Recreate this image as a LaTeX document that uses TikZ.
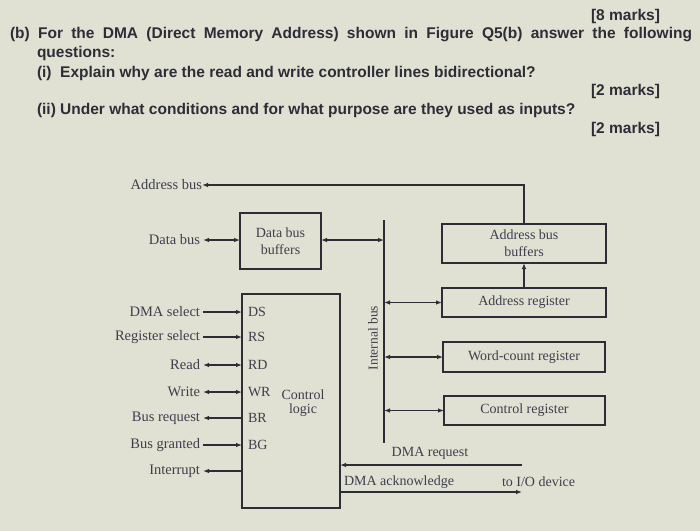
\documentclass[tikz,border=0pt]{standalone}
\usepackage{fontspec}
\setmainfont{Liberation Serif}
\newfontfamily\qfont{Liberation Sans}
\usetikzlibrary{arrows.meta}
\definecolor{ink}{RGB}{45,45,55}
\definecolor{lbl}{RGB}{62,62,78}
\definecolor{bg}{RGB}{224,225,210}
\begin{document}
\begin{tikzpicture}[x=1pt,y=-1pt,
  every node/.style={inner sep=0pt, outer sep=0pt},
  qtext/.style={font=\qfont\bfseries\fontsize{15.5}{18}\selectfont, text=ink},
  lab/.style={font=\fontsize{14.5}{16}\selectfont, text=lbl},
  inlab/.style={font=\fontsize{14}{16}\selectfont, text=lbl},
  box/.style={draw=ink, line width=1.6pt, align=center, font=\fontsize{14}{17}\selectfont, text=lbl},
  wire/.style={draw=ink, line width=1.1pt},
  onearr/.style={wire, -{Latex[length=6pt,width=4.5pt]}},
  twoarr/.style={wire, {Latex[length=6pt,width=4.5pt]}-{Latex[length=6pt,width=4.5pt]}}
]
\fill[bg] (0,0) rectangle (700,531);
\useasboundingbox (0,0) rectangle (700,531);

% question text
\node[qtext, anchor=base east] (m8) at (660,20) {[8 marks]};
\node[qtext, anchor=base west] (q1) at (10,38) {\makebox[682pt][s]{(b) For the DMA (Direct Memory Address) shown in Figure Q5(b) answer the following}};
\node[qtext, anchor=base west] (q2) at (37,57) {questions:};
\node[qtext, anchor=base west] (q3) at (37,77) {(i)\ \ Explain why are the read and write controller lines bidirectional?};
\node[qtext, anchor=base east] (m2a) at (660,95) {[2 marks]};
\node[qtext, anchor=base west] (q4) at (37,114) {(ii) Under what conditions and for what purpose are they used as inputs?};
\node[qtext, anchor=base east] (m2b) at (660,133) {[2 marks]};

% boxes
\node[box, minimum width=81, minimum height=56] (dbb) at (280.5,241) {Data bus\\buffers};
\node[box, minimum width=164, minimum height=39] (abb) at (524,243.5) {Address bus\\buffers};
\node[box, minimum width=164, minimum height=29] (ar) at (524,302.5) {Address register};
\node[box, minimum width=162, minimum height=30] (wc) at (524,357) {Word-count register};
\node[box, minimum width=161, minimum height=29] (cr) at (524.5,410.5) {Control register};
\node[box, minimum width=98, minimum height=214] (cl) at (291,401) {};

% internal bus
\coordinate (ibt) at (384,220);
\coordinate (ibb) at (384,443);
\draw[ink, line width=1.6pt] (ibt) -- (ibb);
\node[font=\fontsize{13.5}{13.5}\selectfont, text=lbl, rotate=90] (ibl) at (373,338) {Internal bus};

% address bus
\node[lab, anchor=east] (abl) at (202,185) {Address bus};
\coordinate (abc) at (524,185);
\draw[onearr] (abb.north) -- (abc) -- (abl.east);

% data bus
\node[lab, anchor=east] (dbl) at (200,240) {Data bus};
\draw[twoarr] (dbl.east) ++(3,0) coordinate (dbs) -- (dbb.west |- dbs);
\coordinate (ib1) at (384,240);
\draw[twoarr] (dbb.east |- ib1) -- (ib1);

% registers to internal bus
\draw[twoarr] (384,302.5) coordinate (ib2) -- (ar.west);
\draw[twoarr] (384,357) coordinate (ib3) -- (wc.west);
\draw[twoarr] (384,410.5) coordinate (ib4) -- (cr.west);
\draw[onearr] (ar.north) -- (abb.south);

% control logic inputs/outputs
\node[lab, anchor=east] (ds) at (200,312) {DMA select};
\node[lab, anchor=east] (rs) at (200,337) {Register select};
\node[lab, anchor=east] (rd) at (200,365) {Read};
\node[lab, anchor=east] (wr) at (200,392) {Write};
\node[lab, anchor=east] (br) at (200,418) {Bus request};
\node[lab, anchor=east] (bg) at (200,445) {Bus granted};
\node[lab, anchor=east] (ir) at (200,471) {Interrupt};

\node[inlab, anchor=west] (pds) at (248,312) {DS};
\node[inlab, anchor=west] (prs) at (248,337) {RS};
\node[inlab, anchor=west] (prd) at (248,365) {RD};
\node[inlab, anchor=west] (pwr) at (248,392) {WR};
\node[inlab, anchor=west] (pbr) at (248,418) {BR};
\node[inlab, anchor=west] (pbg) at (248,445) {BG};
\node[inlab] (ctl) at (303,395) {Control};
\node[inlab] (lgc) at (303,410) {logic};

\draw[onearr] ([xshift=3pt]ds.east) -- (cl.west |- ds);
\draw[onearr] ([xshift=3pt]rs.east) -- (cl.west |- rs);
\draw[twoarr] ([xshift=3pt]rd.east) -- (cl.west |- rd);
\draw[twoarr] ([xshift=3pt]wr.east) -- (cl.west |- wr);
\draw[onearr] (cl.west |- br) -- ([xshift=3pt]br.east);
\draw[onearr] ([xshift=3pt]bg.east) -- (cl.west |- bg);
\draw[onearr] (cl.west |- ir) -- ([xshift=3pt]ir.east);

% DMA request / acknowledge
\coordinate (rqe) at (522,465);
\coordinate (ake) at (522,492);
\draw[onearr] (rqe) -- (cl.east |- rqe);
\draw[onearr] (cl.east |- ake) -- (ake);
\node[inlab] (rql) at (430,453) {DMA request};
\node[inlab, anchor=west] (akl) at (344,482) {DMA acknowledge};
\node[inlab, anchor=west] (iol) at (502,482) {to I/O device};
\end{tikzpicture}
\end{document}
